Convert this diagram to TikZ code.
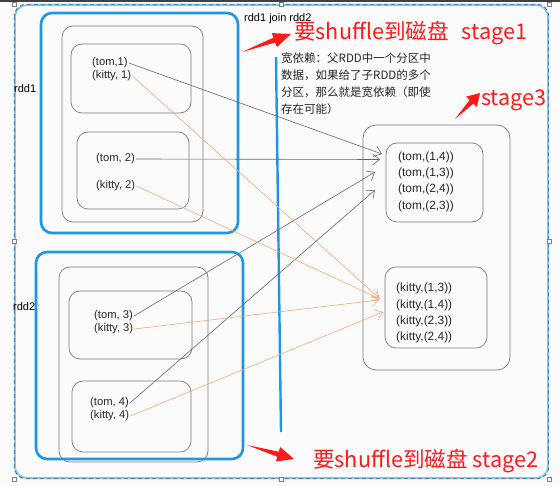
\documentclass[tikz,border=0pt]{standalone}
\usepackage{fontspec}
\setmainfont{Liberation Sans}
\newfontfamily\cjk{Noto Sans CJK SC}
\usetikzlibrary{arrows.meta,calc}
\definecolor{selblue}{HTML}{2E9BE6}
\definecolor{rddblue}{HTML}{1E96E8}
\definecolor{boxgrey}{HTML}{7A7A7A}
\definecolor{linegrey}{HTML}{666666}
\definecolor{lineorange}{HTML}{F2A97E}
\definecolor{redtxt}{HTML}{FF1A1A}
\definecolor{bg}{HTML}{FBFBFB}
\tikzset{
  gbox/.style={draw=boxgrey, line width=0.7pt, rounded corners=11pt, inner sep=0pt},
  bbox/.style={draw=rddblue, line width=2.6pt, rounded corners=11pt, inner sep=0pt},
  tup/.style={font=\fontsize{11.2}{13}\selectfont, inner sep=1pt, anchor=west, text=black!85},
  glink/.style={draw=linegrey, line width=0.6pt, -{Straight Barb[length=7pt,width=11pt,line width=0.6pt]}},
  olink/.style={draw=lineorange, line width=0.6pt, -{Straight Barb[length=7pt,width=11pt,line width=0.6pt]}},
  redlabel/.style={text=redtxt, font=\cjk\fontsize{21.6}{24}\selectfont, inner sep=0pt, anchor=west},
  handle/.style={draw=gray, fill=white, line width=0.5pt, minimum size=4pt, inner sep=0pt},
}
\newcommand{\redarrow}[2]{%
  \fill[redtxt] (#1) -- ($($(#1)!0.66!(#2)$)!2.6pt!90:(#2)$) -- ($($(#1)!0.66!(#2)$)!7.5pt!90:(#2)$) -- (#2)
   -- ($($(#1)!0.66!(#2)$)!7.5pt!-90:(#2)$) -- ($($(#1)!0.66!(#2)$)!2.6pt!-90:(#2)$) -- cycle;}
\begin{document}
\begin{tikzpicture}[x=1pt,y=-1pt]
\useasboundingbox (0,0) rectangle (560,486);
\fill[bg] (0,0) rectangle (560,486);
\fill[black!75] (0,0) rectangle (560,2.5);

% outer selection frame
\node[draw=selblue!60, line width=1.6pt, rounded corners=12pt, minimum width=533pt, minimum height=473pt, inner sep=0pt] (outer) at (281.5,241.5) {};
\draw[selblue!70!black, line width=0.8pt, dash pattern=on 4pt off 3pt, rounded corners=12pt] (outer.north west) rectangle (outer.south east);

% rdd1
\node[bbox, minimum width=197pt, minimum height=220pt] (rdd1) at (139.5,123) {};
\node[gbox, minimum width=141pt, minimum height=196pt] (rdd1in) at (132.5,124) {};
\node[gbox, minimum width=120pt, minimum height=69pt] (p1) at (131,78.5) {};
\node[gbox, minimum width=112pt, minimum height=77pt] (p2) at (133,170.5) {};
% rdd2
\node[bbox, minimum width=207pt, minimum height=207pt] (rdd2) at (139.5,355.5) {};
\node[gbox, minimum width=149pt, minimum height=195pt] (rdd2in) at (133.5,364.5) {};
\node[gbox, minimum width=123pt, minimum height=68pt] (p3) at (130.5,325) {};
\node[gbox, minimum width=119pt, minimum height=71pt] (p4) at (131.5,416.5) {};
% stage3
\node[gbox, minimum width=147pt, minimum height=245pt, rounded corners=13pt] (s3) at (436.5,247.5) {};
\node[gbox, minimum width=97pt, minimum height=79pt] (pA) at (434.5,182.5) {};
\node[gbox, minimum width=102pt, minimum height=81pt] (pB) at (436,307.5) {};

% labels
\node[font=\fontsize{11}{13}\selectfont, anchor=west, inner sep=0pt] (l1) at (14,89) {rdd1};
\node[font=\fontsize{11}{13}\selectfont, anchor=west, inner sep=0pt] (l2) at (13,307) {rdd2};
\node[font=\fontsize{11}{13}\selectfont, anchor=west, inner sep=0pt] (join) at (244,19) {rdd1 join rdd2};

% tuples
\node[tup] (t1) at (91,63) {(tom,1)};
\node[tup] (k1) at (91,76) {(kitty, 1)};
\node[tup] (t2) at (95,159) {(tom, 2)};
\node[tup] (k2) at (95,186) {(kitty, 2)};
\node[tup] (t3) at (93,316) {(tom, 3)};
\node[tup] (k3) at (93,329) {(kitty, 3)};
\node[tup] (t4) at (89,403) {(tom, 4)};
\node[tup] (k4) at (89,416) {(kitty, 4)};

\node[tup, align=left, font=\fontsize{11.9}{16.3}\selectfont] (ta) at (397,181.5) {(tom,(1,4))\\(tom,(1,3))\\(tom,(2,4))\\(tom,(2,3))};
\node[tup, align=left, font=\fontsize{11.9}{16.1}\selectfont] (ka) at (395,313) {(kitty,(1,3))\\(kitty,(1,4))\\(kitty,(2,3))\\(kitty,(2,4))};

% vertical blue line
\coordinate (vtop) at (276,57);
\coordinate (vbot) at (281,432);
\draw[rddblue, line width=2.4pt] (vtop) -- (vbot);

% arrow targets
\coordinate (ga1) at (382,154);
\coordinate (ga2) at (380,159.5);
\coordinate (ga3) at (375,172);
\coordinate (ga4) at (375,190);
\coordinate (ob1) at (379,298);
\coordinate (ob2) at (380,299);
\coordinate (ob3) at (379,300);
\coordinate (ob4) at (383,312);

\draw[glink] (t1.east) -- (ga1);
\draw[glink] (t2.east) -- (ga2);
\draw[glink] (t3.east) -- (ga3);
\draw[glink] (t4.east) -- (ga4);
\draw[olink] (k1.east) -- (ob1);
\draw[olink] (k2.east) -- (ob2);
\draw[olink] (k3.east) -- (ob3);
\draw[olink] (k4.east) -- (ob4);

% explanation
\node[anchor=north west, align=left, inner sep=0pt, font=\cjk\fontsize{11.5}{17}\selectfont, text=black!85] (expl) at (281,53) {宽依赖：父RDD中一个分区中\\数据，如果给了子RDD的多个\\分区，那么就是宽依赖（即使\\存在可能）};

% red annotations
\coordinate (r1a) at (242,52);
\coordinate (r1b) at (291,34);
\redarrow{r1a}{r1b}
\node[redlabel] (st1) at (294,33) {要shuffle到磁盘\hspace{0.6em}stage1};
\coordinate (r3a) at (455,119);
\coordinate (r3b) at (480,93);
\redarrow{r3a}{r3b}
\node[redlabel] (st3) at (481,100) {stage3};
\coordinate (r2a) at (247,445);
\coordinate (r2b) at (294,459);
\redarrow{r2a}{r2b}
\node[redlabel] (st2) at (313,461) {要shuffle到磁盘 stage2};

% selection handles
\foreach \p in {north west,north,north east,west,east,south west,south,south east}
  \node[handle] at (outer.\p) {};
\end{tikzpicture}
\end{document}
